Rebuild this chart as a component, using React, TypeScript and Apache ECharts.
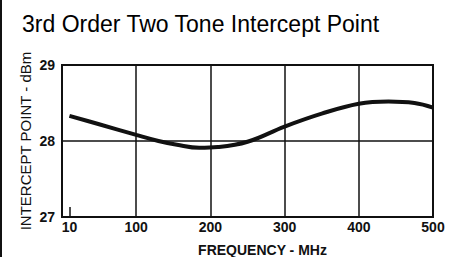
import React, { useEffect, useRef } from "react";
import * as echarts from "echarts";

const frequencyMHz = [10, 50, 100, 130, 155, 185, 210, 250, 300, 350, 400, 440, 475, 500];
const interceptDbm = [28.33, 28.22, 28.08, 28.0, 27.95, 27.91, 27.92, 27.99, 28.19, 28.36, 28.49, 28.52, 28.5, 28.44];
const xTickLabels = [10, 100, 200, 300, 400, 500];
const yTickLabels = [27, 28, 29];

const titleText = "3rd Order Two Tone Intercept Point";
const xName = "FREQUENCY - MHz";
const yName = "INTERCEPT POINT - dBm";

export default function App() {
  const ref = useRef<HTMLDivElement>(null);
  useEffect(() => {
    if (!ref.current) return;
    const chart = echarts.init(ref.current, null, { renderer: "svg" });
    const ink = "#111111";
    const labelFont = "Liberation Sans, Arial, sans-serif";
    chart.setOption({
      animation: false,
      backgroundColor: "#ffffff",
      title: {
        text: titleText,
        left: 17,
        top: 7,
        textStyle: { fontSize: 23, fontWeight: "normal", color: "#000", fontFamily: labelFont },
      },
      graphic: [
        { type: "rect", shape: { x: 0, y: 0, width: 2, height: 257 }, style: { fill: ink } },
      ],
      grid: {
        left: 62,
        right: 23,
        top: 65,
        bottom: 40,
        outerBoundsMode: "none",
        containLabel: false,
        show: true,
        borderColor: ink,
        borderWidth: 2,
        backgroundColor: "transparent",
      },
      xAxis: [
        {
          type: "value",
          min: 0,
          max: 500,
          interval: 100,
          position: "bottom",
          name: xName,
          nameLocation: "middle",
          nameGap: 26,
          nameMoveOverlap: false,
          nameTextStyle: { fontSize: 14, fontWeight: "bold", color: ink, fontFamily: labelFont, padding: [0, 0, 0, 30] },
          axisLine: { show: false },
          axisTick: { show: false },
          axisLabel: {
            customValues: xTickLabels,
            margin: 3,
            fontSize: 14,
            fontWeight: "bold",
            color: ink,
            fontFamily: labelFont,
          },
          splitLine: { show: true, lineStyle: { color: ink, width: 1.5 } },
        },
        {
          type: "value",
          min: 0,
          max: 500,
          position: "bottom",
          offset: 0,
          axisLine: { show: false },
          axisLabel: { show: false },
          splitLine: { show: false },
          axisTick: { show: true, inside: true, length: 10, customValues: [10], lineStyle: { color: ink, width: 1.5 } },
        },
      ],
      yAxis: {
        type: "value",
        min: 27,
        max: 29,
        interval: 1,
        name: yName,
        nameLocation: "middle",
        nameRotate: 90,
        nameGap: 29,
        nameMoveOverlap: false,
        nameTextStyle: { fontSize: 15, color: ink, fontFamily: labelFont },
        axisLine: { show: false },
        axisTick: { show: false },
        axisLabel: {
          customValues: yTickLabels,
          margin: 7,
          fontSize: 14,
          fontWeight: "bold",
          color: ink,
          fontFamily: labelFont,
        },
        splitLine: { show: true, lineStyle: { color: ink, width: 1.5 } },
      },
      series: [
        {
          type: "line",
          xAxisIndex: 0,
          data: frequencyMHz.map((f, i) => [f, interceptDbm[i]]),
          smooth: 0.4,
          showSymbol: false,
          lineStyle: { color: ink, width: 4 },
        },
      ],
    });
    return () => chart.dispose();
  }, []);
  return (
    <div
      ref={ref}
      style={{ position: "fixed", left: 0, top: 0, width: 456, height: 257, background: "#fff" }}
    />
  );
}
